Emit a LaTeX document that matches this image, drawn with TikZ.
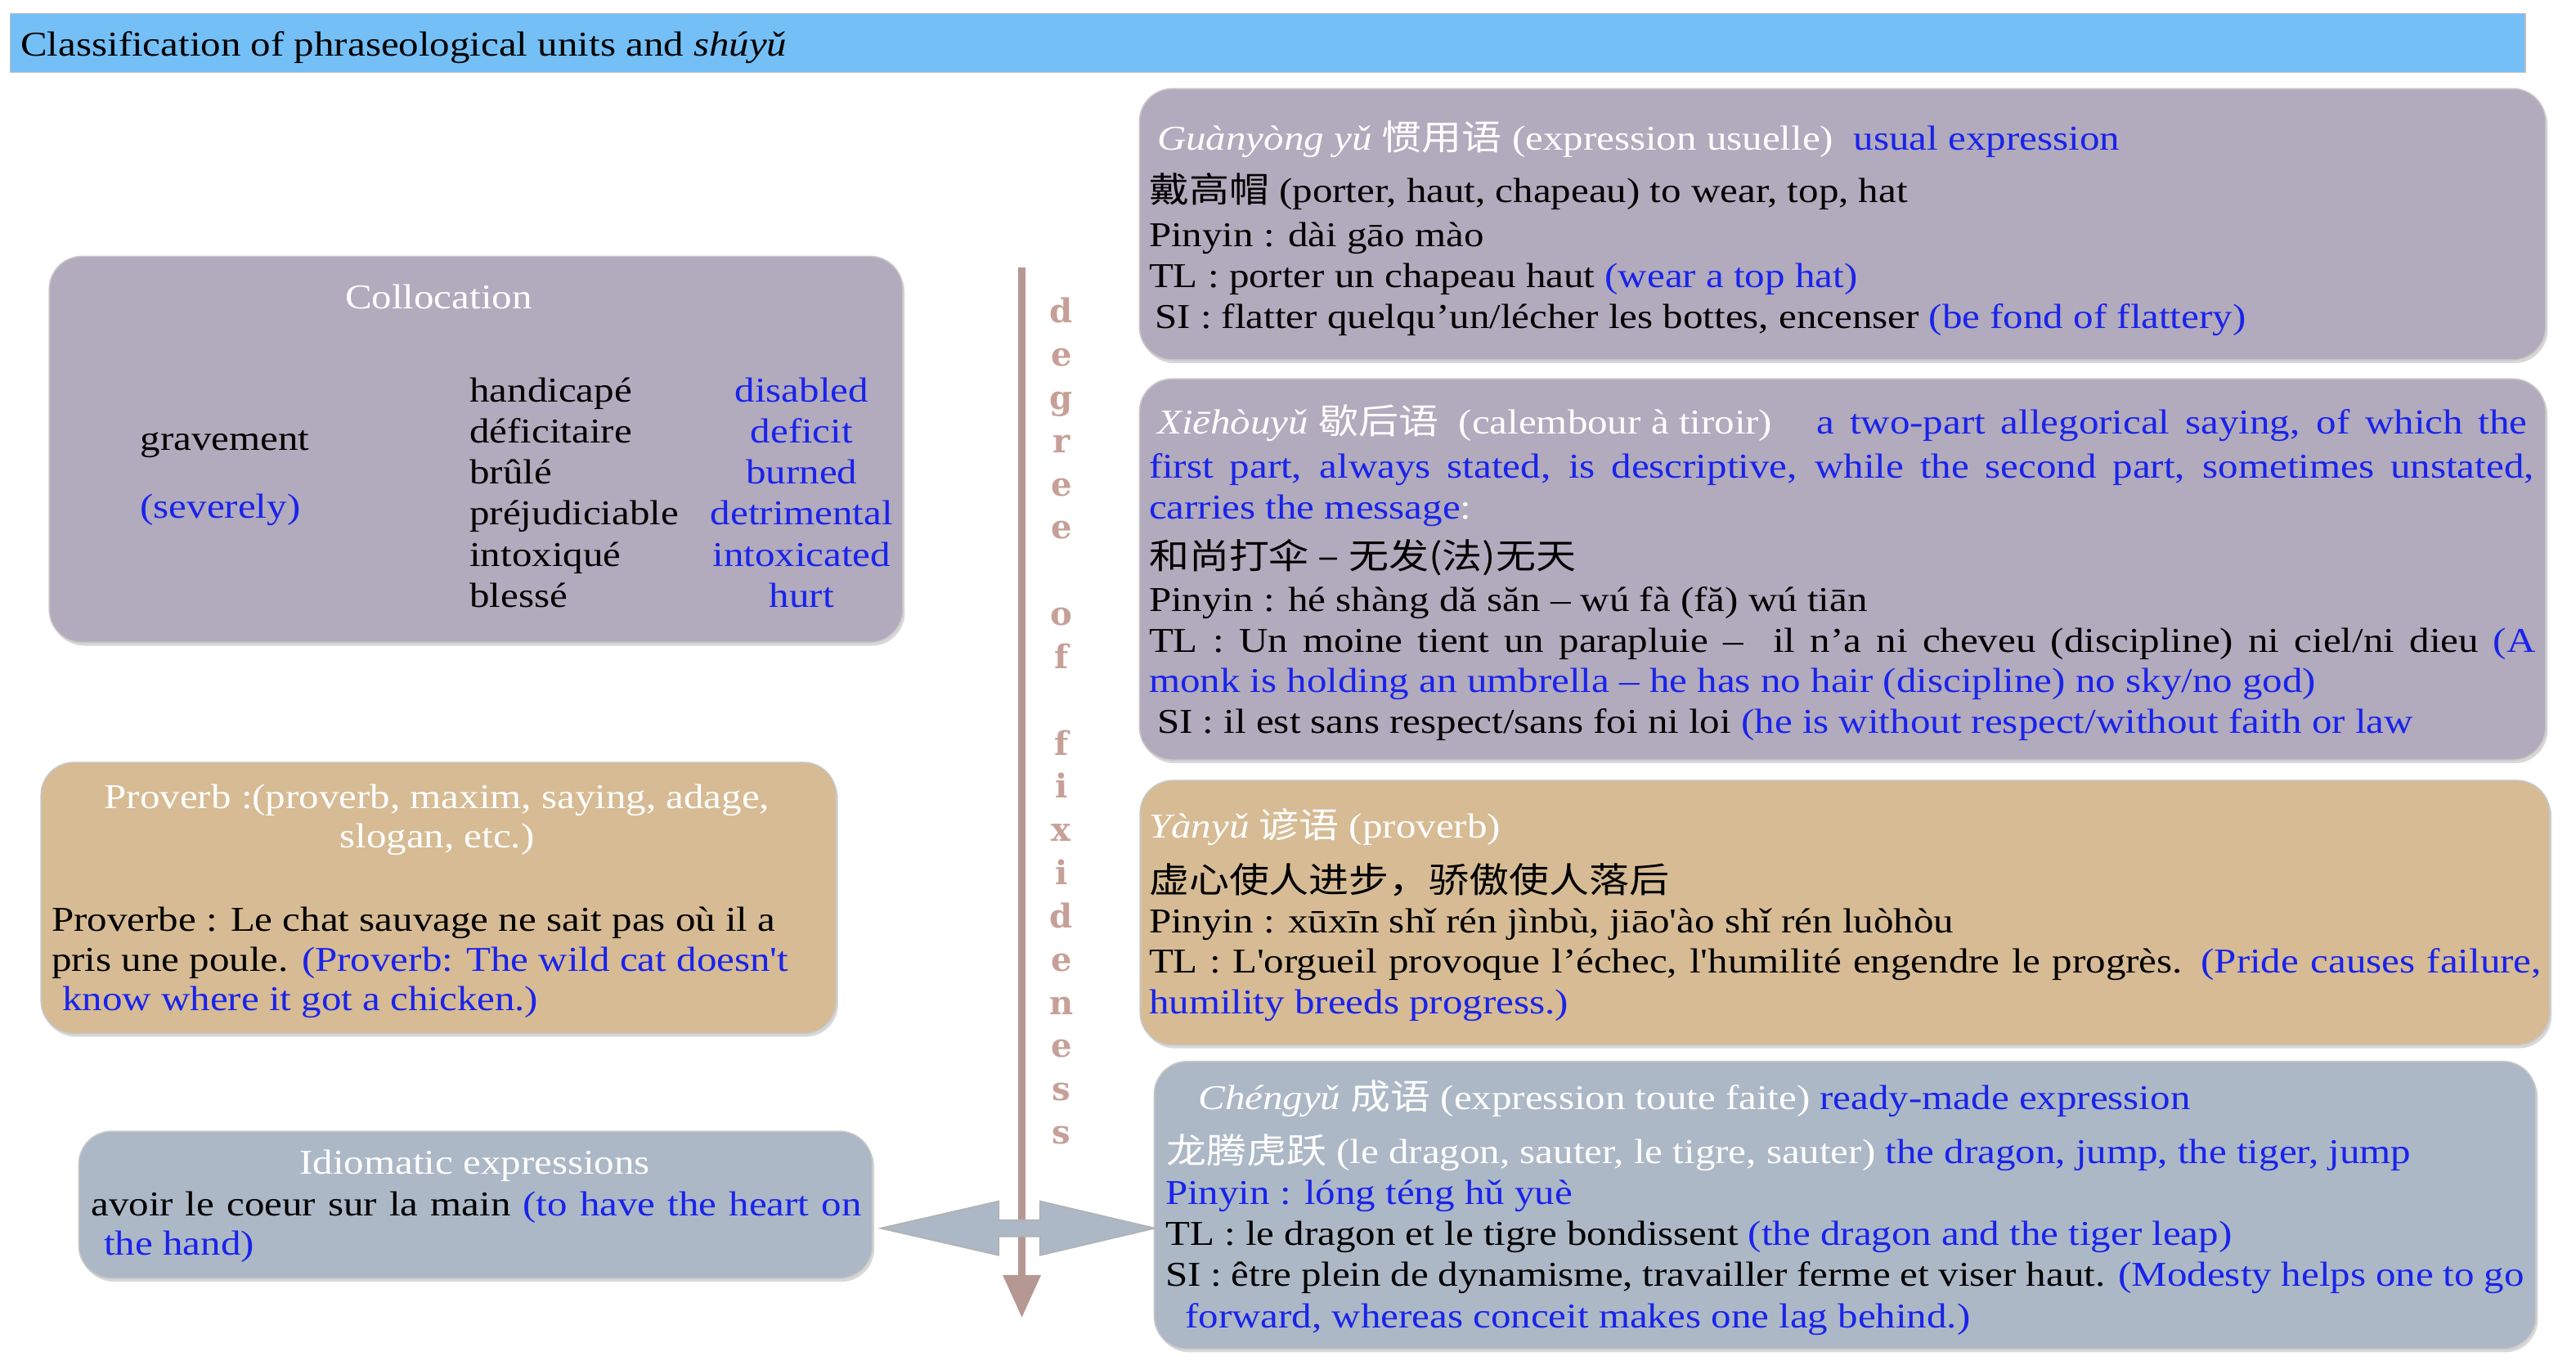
\documentclass[tikz,border=0pt]{standalone}
\usepackage{fontspec}
\setmainfont{Liberation Serif}[FakeStretch=1.15, Ligatures=TeXOff]
\newfontfamily\cjk{Noto Sans CJK SC}[FakeStretch=1.15]
\newfontfamily\vfont{DejaVu Serif}
\usetikzlibrary{fit,shadows,arrows.meta}
\definecolor{lav}{RGB}{178,170,189}
\definecolor{boxtan}{RGB}{214,187,148}
\definecolor{gblue}{RGB}{172,184,198}
\definecolor{barblue}{RGB}{116,191,246}
\definecolor{eblue}{RGB}{25,35,235}
\definecolor{arrbrown}{RGB}{181,152,146}
\definecolor{letbrown}{RGB}{198,160,152}
\newcommand\fs{\fontsize{10.6}{12.5}\selectfont}
\newcommand\blu[1]{\textcolor{eblue}{#1}}
\newcommand\zh[1]{{\cjk #1}}
\newcommand\jl[2]{\hbox to #1{#2}}
\tikzset{
  panel/.style={rounded corners=10pt, inner sep=0pt, draw=black!22, line width=0.4pt,
    drop shadow={shadow xshift=0.6pt, shadow yshift=-1pt, opacity=0.3}},
  tx/.style={anchor=base west, inner sep=0pt, font=\fs},
  txc/.style={anchor=base, inner sep=0pt, font=\fs},
}
\begin{document}
\begin{tikzpicture}[x=0.5pt,y=-0.5pt]
\fill[white] (0,0) rectangle (1568,828.3);
\useasboundingbox (0,0) rectangle (1568,828.3);

% title bar
\node[fit={(6.3,8.2) (1537,44)}, inner sep=0pt, fill=barblue, draw=black!25, line width=0.4pt] (bar) {};
\node[tx] (ttl) at (12.2,34.3) {Classification of phraseological units and \textit{shúyǔ}};

% panels
\node[panel, fill=lav, fit={(30,156) (549.5,391)}] (colloc) {};
\node[panel, fill=boxtan, fit={(25,464) (509,629)}] (prov) {};
\node[panel, fill=gblue, fit={(48,688.5) (531,778)}] (idiom) {};
\node[panel, fill=lav, fit={(693.6,54) (1549.5,219)}] (guan) {};
\node[panel, fill=lav, fit={(693.6,230.6) (1549.5,462.5)}] (xie) {};
\node[panel, fill=boxtan, fit={(694,475) (1552,636)}] (yan) {};
\node[panel, fill=gblue, fit={(702.6,646) (1543.6,821)}] (cheng) {};

% vertical arrow
\coordinate (vtop) at (622,163);
\coordinate (vbot) at (622,802);
\draw[line width=2.3pt, arrbrown, -{Triangle[width=11pt,length=13pt]}] (vtop) -- (vbot);

% double block arrow
\path[fill=gblue, draw=black!30, line width=0.4pt] (536,747.5) -- (608,731) -- (608,742.5) -- (633,742.5) -- (633,731) -- (703,747.5) -- (633,764) -- (633,752.5) -- (608,752.5) -- (608,764) -- cycle;

% vertical letters
\foreach \ch/\k [count=\n] in {d/0,e/1,g/2,r/3,e/4,e/5,o/7,f/8,f/10,i/11,x/12,i/13,d/14,e/15,n/16,e/17,s/18,s/19}
  \node[anchor=base, inner sep=0pt, font=\vfont\bfseries\fontsize{10}{10}\selectfont, text=letbrown] (v\n) at (646,196.5+26.3*\k) {\ch};

% Collocation
\node[txc, text=white] (ctitle) at (267,188) {Collocation};
\node[tx] (grav) at (85,274) {gravement};
\node[tx, text=eblue] (sev) at (85,315.5) {(severely)};
\foreach \w/\y [count=\n] in {handicapé/244.5, déficitaire/269.5, brûlé/294.5, préjudiciable/319.5, intoxiqué/344.5, blessé/369.5}
  \node[tx] (fr\n) at (285.5,\y) {\w};
\foreach \w/\y [count=\n] in {disabled/244.5, deficit/269.5, burned/294.5, detrimental/319.5, intoxicated/344.5, hurt/369.5}
  \node[txc, text=eblue] (en\n) at (488,\y) {\w};

% Proverb
\node[txc, text=white] (pt1) at (266,492) {Proverb :(proverb, maxim, saying, adage,};
\node[txc, text=white] (pt2) at (266,516) {slogan, etc.)};
\node[tx] (pb1) at (31,566.5) {Proverbe : Le chat sauvage ne sait pas où il a};
\node[tx] (pb2) at (31,591) {pris une poule. \blu{(Proverb: The wild cat doesn't}};
\node[tx] (pb3) at (37.5,615) {\blu{know where it got a chicken.)}};

% Idiomatic
\node[txc, text=white] (it) at (289,714.5) {Idiomatic expressions};
\node[tx] (ib1) at (55,740) {\jl{234.5pt}{avoir le coeur sur la main \blu{(to have the heart on}}};
\node[tx] (ib2) at (63,764) {\blu{the hand)}};

% Guanyong yu
\node[tx, text=white] (t11) at (704,91.5) {\textit{Guànyòng yǔ} \zh{惯用语} (expression usuelle)};
\node[tx, text=eblue] (t11b) at (1128,91.5) {usual expression};
\node[tx] (t12) at (699,123) {\zh{戴高帽} (porter, haut, chapeau) to wear, top, hat};
\node[tx] (t13) at (699,150) {Pinyin : dài gāo mào};
\node[tx] (t14) at (699,175) {TL : porter un chapeau haut \blu{(wear a top hat)}};
\node[tx] (t15) at (702.6,200) {SI : flatter quelqu’un/lécher les bottes, encenser \blu{(be fond of flattery)}};

% Xiehouyu
\node[tx, text=white] (t21) at (704,264) {\textit{Xiēhòuyǔ} \zh{歇后语}\ \ (calembour à tiroir)};
\node[tx, text=eblue] (t21b) at (1105.5,264) {\jl{216.25pt}{a two-part allegorical saying, of which the}};
\node[tx, text=eblue] (t22) at (699,291) {\jl{421.5pt}{first part, always stated, is descriptive, while the second part, sometimes unstated,}};
\node[tx] (t23) at (699,316) {\blu{carries the message}\textcolor{white}{:}};
\node[tx] (t24) at (699,346) {\zh{和尚打伞 – 无发(法)无天}};
\node[tx] (t25) at (699,372) {Pinyin : hé shàng dă săn – wú fà (fă) wú tiān};
\node[tx] (t26) at (699,397) {\jl{422pt}{TL : Un moine tient un parapluie –\ \ il n’a ni cheveu (discipline) ni ciel/ni dieu \blu{(A}}};
\node[tx, text=eblue] (t27) at (699,421.5) {monk is holding an umbrella – he has no hair (discipline) no sky/no god)};
\node[tx] (t28) at (704,446.5) {SI : il est sans respect/sans foi ni loi \blu{(he is without respect/without faith or law}};

% Yanyu
\node[tx, text=white] (t31) at (699,510) {\textit{Yànyǔ} \zh{谚语} (proverb)};
\node[tx] (t32) at (699,543.5) {\zh{虚心使人进步，骄傲使人落后}};
\node[tx] (t33) at (699,567.5) {Pinyin : xūxīn shǐ rén jìnbù, jiāo'ào shǐ rén luòhòu};
\node[tx] (t34) at (699,592) {\jl{423.8pt}{TL : L'orgueil provoque l’échec, l'humilité engendre le progrès. \blu{(Pride causes failure,}}};
\node[tx, text=eblue] (t35) at (699,617) {humility breeds progress.)};

% Chengyu
\node[tx, text=white] (t41) at (729,675) {\textit{Chéngyǔ} \zh{成语} (expression toute faite) \blu{ready-made expression}};
\node[tx, text=white] (t42) at (709.5,708) {\zh{龙腾虎跃} (le dragon, sauter, le tigre, sauter) \blu{the dragon, jump, the tiger, jump}};
\node[tx, text=eblue] (t43) at (709,733) {Pinyin : lóng téng hǔ yuè};
\node[tx] (t44) at (709,758) {TL : le dragon et le tigre bondissent \blu{(the dragon and the tiger leap)}};
\node[tx] (t45) at (709,783) {\jl{413.5pt}{SI : être plein de dynamisme, travailler ferme et viser haut. \blu{(Modesty helps one to go}}};
\node[tx, text=eblue] (t46) at (721,808) {forward, whereas conceit makes one lag behind.)};
\end{tikzpicture}
\end{document}
